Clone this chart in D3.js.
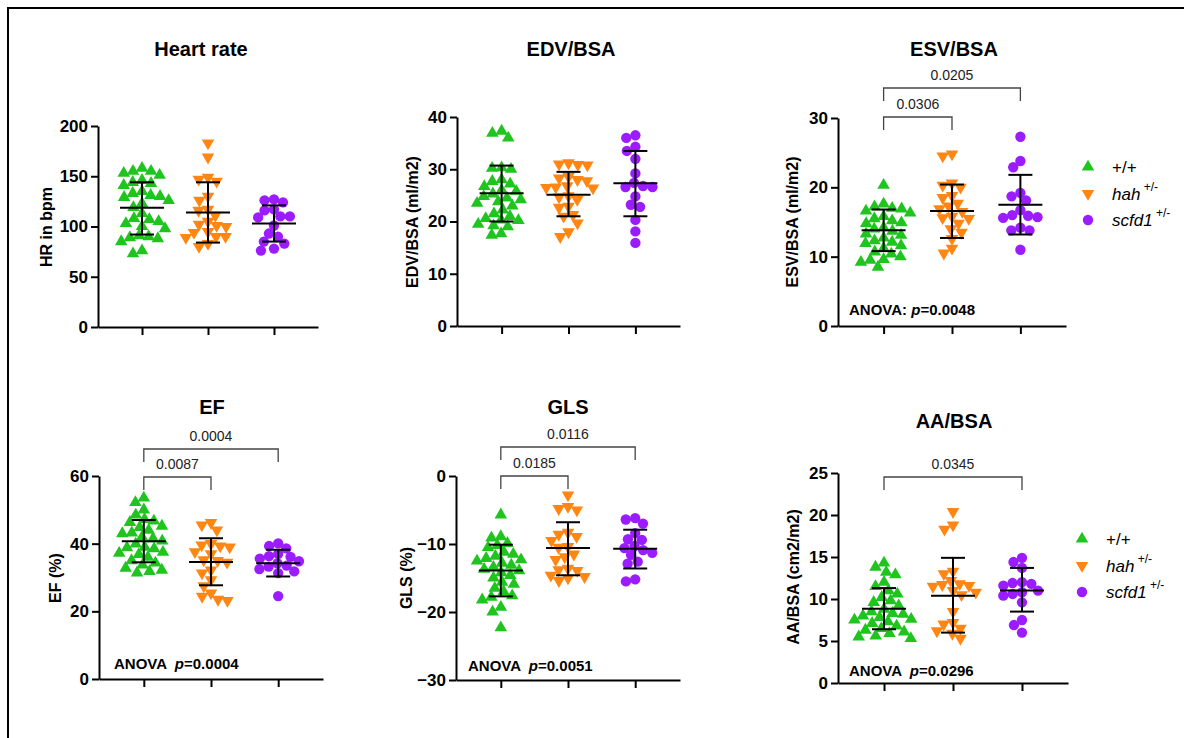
<!DOCTYPE html>
<html>
<head>
<meta charset="utf-8">
<script src="https://cdn.jsdelivr.net/npm/d3@7"></script>
<style>
  body { margin: 0; background: #fff; }
  svg { display: block; font-family: "Liberation Sans", Arial, sans-serif; }
</style>
</head>
<body>
<svg id="chart" width="1184" height="738"></svg>
<script>
// groups: wild type, hah +/-, scfd1 +/-
const groups = ["+/+", "hah", "scfd1"];
const colors = ["#1fc41f", "#ff8612", "#9b1cff"];

// HEART RATE (bpm)
const hrWT = [158, 155, 155, 153, 151, 146, 144, 143, 141, 135, 133, 131, 130, 129, 126, 123, 119, 113, 108, 107, 105, 103, 100, 98, 91, 90, 89, 88, 85, 76, 73];
const hrHah = [183, 169, 149, 147, 145, 130, 126, 117, 116, 111, 105, 102, 101, 100, 95, 94, 90, 90, 89, 83, 80];
const hrScfd = [127, 126, 124, 117, 116, 110, 110, 109, 101, 93, 90, 85, 83, 78, 76];
const hrStats = [[118.6, 92, 144], [114, 84, 144], [103, 85, 121]]; // mean, -SD, +SD

// EDV/BSA (ml/m2)
const edvWT = [37.3, 36.9, 36, 30.3, 30.2, 30, 28, 27.7, 27.2, 26.7, 26, 25.8, 25.3, 24.8, 24.5, 24.2, 23.8, 23.5, 23, 22.2, 21.5, 21, 20.6, 20.3, 20.2, 19.5, 19.2, 19, 17.7, 17.4];
const edvHah = [31.2, 31, 30.9, 30.8, 28.6, 28.3, 28, 27.8, 26.8, 26.6, 26.5, 26.4, 24.9, 24.7, 24.2, 22.9, 22.7, 21.3, 21, 19.7, 18, 17.1];
const edvScfd = [36.5, 36, 34.3, 33.5, 32, 29.2, 27.4, 26.8, 26.6, 26.6, 24.8, 23.2, 22.8, 20.3, 18.1, 15.9];
const edvStats = [[25.4, 20, 30.7], [25.1, 21, 29.5], [27.3, 21, 33.5]];

// ESV/BSA (ml/m2)
const esvWT = [20.3, 17.6, 17.2, 17, 16.9, 16.6, 16.3, 15.8, 15.5, 15.2, 14.9, 14.8, 14.2, 14, 13.7, 13.3, 13.1, 12.7, 12.3, 12.1, 11.9, 11.6, 11.2, 10.7, 10.4, 10, 9.6, 9.5, 9.2, 8.5];
const esvHah = [24.8, 24.5, 20.6, 20.3, 20, 18.8, 18.5, 17.7, 17.3, 16.9, 16.5, 15.8, 15.6, 15.5, 14.8, 14, 13.5, 12.6, 11.2, 10.5];
const esvScfd = [27.3, 23.8, 22.9, 19.2, 18.7, 18.1, 16.7, 16, 15.9, 15.7, 15.6, 14.2, 13.8, 13.8, 11];
const esvStats = [[13.8, 10.8, 16.8], [16.6, 12.7, 20.4], [17.5, 13.2, 21.8]];

// EF (%)
const efWT = [53.5, 52.2, 50, 48.5, 47.2, 46.7, 46.3, 45.2, 44.8, 44, 43.2, 43, 42, 41.5, 40.8, 39.9, 39, 38.8, 38.5, 37.5, 37.2, 36.8, 36, 35, 34.3, 33.7, 32.8, 32.2, 31.8, 31.4];
const efHah = [46.2, 45.5, 44, 40, 39.6, 39.3, 39, 37.6, 37, 35.2, 35, 34.5, 32.2, 31.3, 29.3, 27.5, 25.4, 24.4, 23.5, 23.2];
const efScfd = [40.1, 39.3, 38.6, 37, 36.3, 36.1, 35.6, 34.8, 34.2, 33.5, 33.2, 32.5, 31.8, 31.3, 24.5];
const efStats = [[40.7, 34.5, 47], [34.6, 27.7, 41.6], [34.2, 30.3, 38.2]];

// GLS (%)
const glsWT = [-5.7, -8.9, -9.1, -9.9, -10.2, -10.5, -11.2, -11.5, -11.8, -12.1, -12.3, -12.5, -12.8, -13.1, -13.4, -13.7, -13.9, -14.2, -14.6, -15, -15.6, -15.9, -16.5, -17, -17.6, -17.8, -18.2, -19.3, -20, -22.3];
const glsHah = [-2.8, -4.5, -4.8, -5, -8.3, -8.6, -8.9, -9.5, -10.4, -10.5, -11.5, -11.9, -12.3, -13.6, -13.8, -13.9, -14.6, -14.8, -15, -15.4];
const glsScfd = [-6.2, -6.4, -7, -8.4, -9.3, -9.4, -10.3, -10.6, -10.9, -11.3, -11.6, -12.6, -12.9, -15.2, -15.5];
const glsStats = [[-13.9, -17.7, -10.1], [-10.6, -14.6, -6.8], [-10.7, -13.6, -7.9]];

// AA/BSA (cm2/m2)
const aaWT = [14.3, 13.8, 13.2, 12.9, 12, 11.5, 11, 10.6, 10.2, 9.8, 9.6, 9.2, 8.8, 8.5, 8.3, 8.2, 8, 7.8, 7.6, 7.5, 7.3, 7.1, 6.8, 6.5, 6.3, 6.1, 5.9, 5.6, 5.5, 5.3];
const aaHah = [20.4, 18.8, 18.3, 13.3, 13, 12.2, 11.8, 11.7, 11.6, 11.5, 11, 10.8, 10.5, 8.5, 7.2, 7, 6.5, 6.2, 5.9, 5.3];
const aaScfd = [14.9, 14.4, 13.7, 12, 11.9, 11.8, 11.6, 11, 10.8, 10.6, 10.4, 9.6, 7.5, 6.9, 6];
const aaStats = [[8.85, 6.4, 11.3], [10.4, 6, 14.9], [11, 8.5, 13.7]];

// pairwise p values (from group 0 to group i)
const esvPairs = [["0.0306", 1], ["0.0205", 2]];
const efPairs = [["0.0087", 1], ["0.0004", 2]];
const glsPairs = [["0.0185", 1], ["0.0116", 2]];
const aaPairs = [["0.0345", 2]];

const svg = d3.select("#chart");

// frame around the figure (right and bottom edges fall outside the view)
svg.append("rect")
  .attr("x", 8).attr("y", 8)
  .attr("width", 1300).attr("height", 900)
  .attr("fill", "none").attr("stroke", "#000").attr("stroke-width", 2);

const triUp = d3.symbol(d3.symbolTriangle, 68)();
const circ = d3.symbol(d3.symbolCircle, 84)();
const markers = [
  { d: triUp, rot: 0 },
  { d: triUp, rot: 180 },
  { d: circ, rot: 0 }
];

// simple beeswarm: put each point as close to centre as it can go without overlap
function swarm(ys, diam) {
  const order = d3.range(ys.length).sort((a, b) => ys[a] - ys[b]);
  const placed = [];
  const off = new Array(ys.length).fill(0);
  order.forEach(i => {
    const yi = ys[i];
    const near = placed.filter(p => Math.abs(p.y - yi) < diam);
    let cands = [0];
    near.forEach(p => {
      const dx = Math.sqrt(diam * diam - (p.y - yi) * (p.y - yi));
      cands.push(p.x - dx, p.x + dx);
    });
    cands.sort((a, b) => Math.abs(a) - Math.abs(b) || a - b);
    const ok = cands.find(c =>
      near.every(p => (p.x - c) ** 2 + (p.y - yi) ** 2 >= diam * diam - 0.01)
    );
    off[i] = ok;
    placed.push({ x: ok, y: yi });
  });
  return off;
}

function drawPanel(p) {
  const g = svg.append("g");
  const x = d3.scalePoint().domain(groups).range([p.x0, p.x0 + p.w]).padding(0.667);
  const y = d3.scaleLinear().domain(p.domain).range([p.yBot, p.yTop]);

  // title
  g.append("text")
    .attr("x", p.tx).attr("y", p.ty)
    .attr("text-anchor", "middle")
    .attr("font-size", 20).attr("font-weight", "bold")
    .text(p.title);

  // y axis
  const ya = g.append("g")
    .attr("transform", `translate(${p.x0},0)`)
    .call(d3.axisLeft(y).tickValues(p.ticks).tickSize(7).tickSizeOuter(0).tickPadding(3));
  ya.selectAll("text").attr("font-size", 17).attr("font-weight", "bold").attr("fill", "#000")
    .attr("font-family", "Liberation Sans, Arial, sans-serif");

  // x axis (category ticks only)
  g.append("g")
    .attr("transform", `translate(0,${p.yBot})`)
    .call(d3.axisBottom(x).tickSize(8).tickSizeOuter(0).tickFormat(""));

  g.selectAll(".domain, .tick line").attr("stroke", "#000").attr("stroke-width", 2);

  // y label
  g.append("text")
    .attr("transform", `translate(${p.lx},${p.ly}) rotate(-90)`)
    .attr("text-anchor", "middle")
    .attr("dominant-baseline", "central")
    .attr("font-size", 16).attr("font-weight", "bold")
    .text(p.ylabel);

  // points
  p.data.forEach((vals, i) => {
    const ys = vals.map(v => y(v));
    const off = swarm(ys, 9.5);
    g.append("g").selectAll("path")
      .data(vals)
      .join("path")
      .attr("d", markers[i].d)
      .attr("transform", (d, k) =>
        `translate(${x(groups[i]) + off[k]},${ys[k]}) rotate(${markers[i].rot})`)
      .attr("fill", colors[i]);
  });

  // mean +/- SD
  p.stats.forEach(([m, lo, hi], i) => {
    const cx = x(groups[i]);
    const eb = g.append("g").attr("stroke", "#000").attr("stroke-width", 2);
    eb.append("line").attr("x1", cx).attr("x2", cx).attr("y1", y(lo)).attr("y2", y(hi));
    eb.append("line").attr("x1", cx - 22).attr("x2", cx + 22).attr("y1", y(m)).attr("y2", y(m));
    eb.append("line").attr("x1", cx - 12).attr("x2", cx + 12).attr("y1", y(lo)).attr("y2", y(lo));
    eb.append("line").attr("x1", cx - 12).attr("x2", cx + 12).attr("y1", y(hi)).attr("y2", y(hi));
  });

  // comparison brackets
  (p.pairs || []).forEach(([lab, j], k) => {
    const top = p.brTop[k];
    const x1 = x(groups[0]), x2 = x(groups[j]);
    g.append("path")
      .attr("d", `M${x1},${top + 13}V${top}H${x2}V${top + 13}`)
      .attr("fill", "none").attr("stroke", "#444").attr("stroke-width", 1.3);
    g.append("text")
      .attr("x", (x1 + x2) / 2).attr("y", top - 8)
      .attr("text-anchor", "middle")
      .attr("font-size", 14).attr("fill", "#222")
      .text(lab);
  });

  // ANOVA note
  if (p.anova) {
    const t = g.append("text")
      .attr("x", p.ax).attr("y", p.ay)
      .attr("font-size", 15).attr("font-weight", "bold")
      .attr("xml:space", "preserve");
    t.append("tspan").text(p.anova[0]);
    t.append("tspan").attr("font-style", "italic").text("p");
    t.append("tspan").text("=" + p.anova[1]);
  }
}

function drawLegend(lx, ly) {
  const labels = [["+/+", ""], ["hah", " +/-"], ["scfd1", " +/-"]];
  labels.forEach(([a, b], i) => {
    const yy = ly + i * 26.5;
    svg.append("path")
      .attr("d", markers[i].d)
      .attr("transform", `translate(${lx},${yy}) rotate(${markers[i].rot})`)
      .attr("fill", colors[i]);
    const t = svg.append("text")
      .attr("x", lx + 24).attr("y", yy)
      .attr("dominant-baseline", "central")
      .attr("font-size", 17)
      .attr("xml:space", "preserve");
    t.append("tspan").attr("font-style", i ? "italic" : "normal").text(a);
    if (b) t.append("tspan").attr("font-size", 12).attr("dy", -7).text(b);
  });
}

const panels = [
  { title: "Heart rate", tx: 201, ty: 56, ylabel: "HR in bpm", lx: 46, ly: 227,
    x0: 98, w: 220, yTop: 126, yBot: 327, domain: [0, 200], ticks: [0, 50, 100, 150, 200],
    data: [hrWT, hrHah, hrScfd], stats: hrStats },
  { title: "EDV/BSA", tx: 571, ty: 56, ylabel: "EDV/BSA (ml/m2)", lx: 412, ly: 222,
    x0: 457, w: 223, yTop: 117, yBot: 326, domain: [0, 40], ticks: [0, 10, 20, 30, 40],
    data: [edvWT, edvHah, edvScfd], stats: edvStats },
  { title: "ESV/BSA", tx: 954, ty: 56, ylabel: "ESV/BSA (ml/m2)", lx: 792, ly: 222,
    x0: 838, w: 228, yTop: 118, yBot: 326, domain: [0, 30], ticks: [0, 10, 20, 30],
    data: [esvWT, esvHah, esvScfd], stats: esvStats,
    pairs: esvPairs, brTop: [117, 88], anova: ["ANOVA: ", "0.0048"], ax: 849, ay: 315 },
  { title: "EF", tx: 212, ty: 414, ylabel: "EF (%)", lx: 55, ly: 578,
    x0: 99, w: 224, yTop: 476, yBot: 679, domain: [0, 60], ticks: [0, 20, 40, 60],
    data: [efWT, efHah, efScfd], stats: efStats,
    pairs: efPairs, brTop: [477, 449], anova: ["ANOVA  ", "0.0004"], ax: 114, ay: 669 },
  { title: "GLS", tx: 568, ty: 414, ylabel: "GLS (%)", lx: 406, ly: 578,
    x0: 456, w: 224, yTop: 476, yBot: 680, domain: [-30, 0], ticks: [-30, -20, -10, 0],
    data: [glsWT, glsHah, glsScfd], stats: glsStats,
    pairs: glsPairs, brTop: [476, 447], anova: ["ANOVA  ", "0.0051"], ax: 468, ay: 671 },
  { title: "AA/BSA", tx: 954, ty: 428, ylabel: "AA/BSA (cm2/m2)", lx: 793, ly: 577,
    x0: 838, w: 230, yTop: 473, yBot: 683, domain: [0, 25], ticks: [0, 5, 10, 15, 20, 25],
    data: [aaWT, aaHah, aaScfd], stats: aaStats,
    pairs: aaPairs, brTop: [477], anova: ["ANOVA  ", "0.0296"], ax: 849, ay: 676 }
];

panels.forEach(drawPanel);
drawLegend(1088, 167);
drawLegend(1082, 539);
</script>
</body>
</html>
